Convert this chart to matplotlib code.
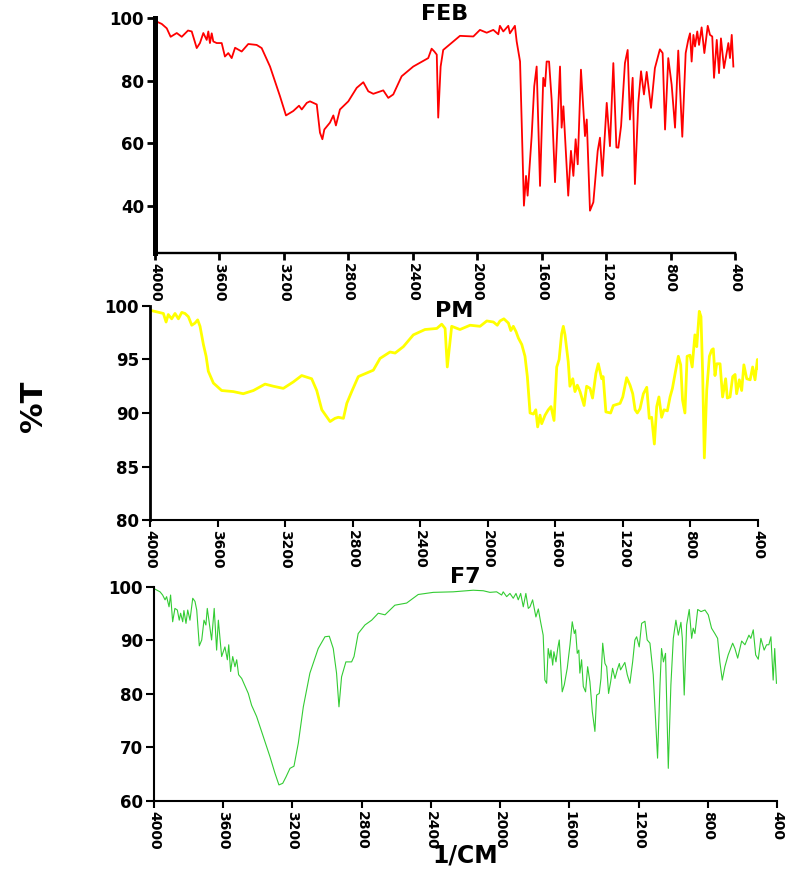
import matplotlib
matplotlib.use("Agg")
import matplotlib.pyplot as plt

plt.rcParams["font.family"] = ["DejaVu Sans"]
plt.rcParams["font.weight"] = "bold"

# ── Spectra (wavenumber 1/cm, %T) ────────────────────────────────────────────
feb_wn = [4000, 3958, 3927, 3903, 3865, 3834, 3795, 3772, 3741, 3721, 3700, 3679,
          3669, 3659, 3648, 3638, 3617, 3586, 3566, 3545, 3524, 3503, 3462, 3421,
          3369, 3338, 3286, 3224, 3187, 3142, 3106, 3089, 3058, 3038, 2996, 2976,
          2961, 2949, 2914, 2893, 2877, 2852, 2800, 2748, 2707, 2676, 2645, 2583,
          2552, 2521, 2469, 2397, 2304, 2283, 2266, 2251, 2242, 2227, 2211, 2149,
          2107, 2024, 1983, 1941, 1900, 1869, 1859, 1838, 1807, 1797, 1766, 1755,
          1734, 1710, 1697, 1687, 1662, 1646, 1631, 1610, 1590, 1579, 1569, 1554,
          1538, 1517, 1486, 1476, 1465, 1455, 1435, 1418, 1403, 1389, 1376, 1356,
          1331, 1320, 1300, 1279, 1252, 1238, 1223, 1196, 1176, 1155, 1136, 1124,
          1107, 1083, 1066, 1052, 1035, 1021, 1000, 983, 965, 948, 921, 897,
          866, 849, 834, 814, 793, 772, 752, 727, 706, 690, 679, 669,
          658, 648, 634, 623, 607, 590, 569, 555, 541, 530, 513, 499,
          487, 468, 441, 431, 420, 410]
feb_t = [99.1, 98.1, 96.7, 94.0, 95.2, 94.0, 96.0, 95.7, 90.4, 92.0, 95.2, 93.0,
         95.7, 92.0, 95.1, 92.5, 92.0, 92.0, 87.7, 88.8, 87.2, 90.5, 89.3, 91.7,
         91.4, 90.4, 84.5, 75.0, 68.9, 70.3, 72.0, 70.8, 72.9, 73.4, 72.4, 63.4,
         61.3, 64.4, 66.6, 68.9, 65.7, 70.8, 73.4, 77.7, 79.5, 76.6, 75.8, 76.9,
         74.5, 75.6, 81.4, 84.5, 87.2, 90.2, 89.3, 88.3, 68.2, 84.5, 89.8, 92.5,
         94.3, 94.1, 96.2, 95.3, 96.2, 94.8, 97.5, 95.7, 97.5, 95.1, 97.5, 92.5,
         86.1, 40.1, 49.6, 43.3, 62.3, 78.2, 84.5, 46.4, 80.9, 78.2, 86.1, 86.1,
         74.0, 47.6, 84.5, 65.0, 71.8, 62.3, 43.3, 57.6, 49.6, 61.3, 53.3, 83.5,
         62.3, 67.6, 38.5, 41.2, 57.6, 61.8, 49.6, 72.9, 59.1, 85.6, 58.7, 58.6,
         65.5, 85.6, 89.8, 67.6, 80.9, 47.0, 72.9, 83.0, 75.6, 82.8, 71.3, 84.0,
         90.0, 88.8, 64.4, 87.2, 78.7, 65.0, 89.6, 62.1, 88.8, 93.0, 95.1, 86.1,
         94.6, 90.9, 95.7, 91.4, 97.0, 88.8, 97.5, 94.6, 94.1, 80.9, 93.0, 82.4,
         93.5, 84.0, 92.0, 87.2, 94.6, 84.5]

pm_wn = [4000, 3921, 3905, 3892, 3872, 3852, 3832, 3812, 3793, 3773, 3753, 3734,
         3718, 3704, 3684, 3668, 3655, 3625, 3576, 3507, 3448, 3388, 3319, 3270,
         3211, 3152, 3102, 3043, 3013, 2983, 2934, 2905, 2885, 2855, 2835, 2806,
         2767, 2678, 2638, 2579, 2549, 2500, 2441, 2372, 2302, 2273, 2253, 2240,
         2214, 2165, 2105, 2046, 2006, 1967, 1944, 1928, 1905, 1878, 1864, 1849,
         1833, 1819, 1799, 1780, 1766, 1750, 1730, 1716, 1705, 1691, 1681, 1661,
         1642, 1626, 1608, 1592, 1578, 1563, 1553, 1543, 1524, 1514, 1497, 1484,
         1470, 1454, 1430, 1415, 1395, 1380, 1360, 1346, 1326, 1317, 1301, 1273,
         1257, 1217, 1201, 1188, 1178, 1158, 1142, 1128, 1115, 1099, 1079, 1059,
         1044, 1030, 1014, 1000, 987, 971, 957, 937, 921, 907, 891, 872,
         858, 847, 833, 820, 803, 790, 774, 763, 748, 738, 728, 718,
         704, 688, 674, 665, 655, 645, 625, 610, 592, 582, 566, 550,
         536, 527, 511, 497, 484, 467, 447, 432, 418, 404, 398]
pm_t = [99.6, 99.3, 98.5, 99.2, 98.8, 99.3, 98.8, 99.4, 99.3, 99.0, 98.2, 98.4,
        98.7, 98.1, 96.4, 95.3, 93.9, 92.8, 92.1, 92.0, 91.8, 92.1, 92.7, 92.5,
        92.3, 92.9, 93.5, 93.2, 92.1, 90.3, 89.2, 89.5, 89.6, 89.5, 90.9, 92.0,
        93.4, 94.0, 95.1, 95.7, 95.6, 96.2, 97.3, 97.8, 97.9, 98.3, 97.9, 94.3,
        98.1, 97.8, 98.2, 98.1, 98.6, 98.5, 98.2, 98.6, 98.8, 98.4, 97.7, 98.1,
        97.6, 97.0, 96.4, 95.3, 93.4, 90.0, 89.9, 90.3, 88.7, 89.8, 89.0, 89.8,
        90.3, 90.6, 89.3, 94.3, 95.0, 97.4, 98.1, 97.3, 94.8, 92.5, 93.2, 92.0,
        92.6, 92.0, 90.7, 92.5, 92.3, 91.4, 93.7, 94.6, 93.2, 93.4, 90.1, 90.0,
        90.7, 90.9, 91.5, 92.5, 93.3, 92.6, 91.8, 90.3, 90.0, 90.4, 91.8, 92.4,
        89.5, 89.6, 87.1, 90.6, 91.5, 89.6, 90.3, 90.2, 91.5, 92.3, 93.7, 95.3,
        94.5, 91.2, 90.0, 95.3, 95.4, 94.3, 97.3, 96.2, 99.5, 99.0, 93.7, 85.8,
        92.1, 95.3, 95.9, 96.0, 93.5, 94.6, 94.6, 91.5, 93.2, 91.4, 91.5, 93.4,
        93.6, 91.8, 93.1, 92.1, 94.5, 93.2, 93.1, 94.3, 93.1, 95.0, 94.2]

f7_wn = [3994, 3965, 3950, 3936, 3927, 3913, 3904, 3892, 3879, 3865, 3854, 3846,
         3834, 3827, 3815, 3805, 3792, 3776, 3763, 3753, 3738, 3724, 3711, 3700,
         3692, 3680, 3667, 3652, 3638, 3628, 3609, 3590, 3576, 3568, 3557, 3545,
         3532, 3522, 3511, 3493, 3455, 3436, 3407, 3368, 3330, 3301, 3278, 3256,
         3237, 3214, 3191, 3166, 3137, 3099, 3051, 3012, 2987, 2964, 2945, 2931,
         2916, 2891, 2858, 2844, 2820, 2781, 2742, 2704, 2665, 2608, 2540, 2473,
         2386, 2271, 2155, 2097, 2059, 2020, 1991, 1982, 1962, 1943, 1924, 1908,
         1895, 1881, 1866, 1851, 1837, 1827, 1812, 1793, 1779, 1766, 1751, 1741,
         1731, 1722, 1712, 1706, 1696, 1689, 1677, 1667, 1658, 1641, 1629, 1612,
         1596, 1583, 1571, 1564, 1554, 1545, 1539, 1529, 1519, 1506, 1494, 1481,
         1467, 1452, 1442, 1427, 1417, 1407, 1394, 1384, 1373, 1361, 1350, 1336,
         1323, 1311, 1304, 1288, 1279, 1265, 1250, 1234, 1221, 1211, 1196, 1182,
         1163, 1150, 1134, 1115, 1090, 1076, 1067, 1056, 1044, 1028, 1013, 999,
         984, 970, 955, 947, 936, 922, 907, 893, 884, 874, 858, 839,
         816, 797, 778, 759, 743, 730, 716, 701, 682, 656, 643, 627,
         604, 585, 562, 551, 537, 523, 508, 493, 474, 460, 447, 435,
         422, 413, 403]
f7_t = [99.6, 99.1, 98.5, 97.6, 98.2, 96.3, 98.5, 93.5, 96.0, 95.7, 93.8, 95.1,
        93.5, 95.6, 93.2, 95.7, 93.8, 97.9, 97.3, 95.7, 89.0, 90.1, 93.8, 92.9,
        96.0, 93.2, 90.1, 96.0, 88.2, 93.8, 87.0, 88.8, 86.4, 89.2, 84.2, 87.0,
        85.1, 86.4, 83.6, 82.9, 80.1, 77.9, 75.8, 72.0, 68.3, 65.2, 63.0, 63.3,
        64.5, 66.1, 66.5, 70.8, 77.6, 83.9, 88.5, 90.7, 90.8, 88.5, 83.9, 77.6,
        83.2, 86.0, 86.0, 87.0, 91.3, 92.9, 93.8, 95.1, 94.8, 96.6, 97.0, 98.6,
        99.0, 99.1, 99.4, 99.3, 99.0, 99.1, 98.5, 99.1, 98.2, 98.8, 97.9, 98.8,
        97.6, 98.8, 96.3, 98.8, 96.0, 96.3, 97.6, 94.4, 95.9, 93.5, 91.0, 82.6,
        82.0, 88.5, 86.7, 88.2, 85.4, 87.9, 86.0, 88.5, 90.1, 80.4, 81.7, 84.8,
        89.2, 93.5, 91.3, 92.0, 87.6, 88.2, 83.9, 86.4, 81.4, 80.4, 85.1, 82.3,
        76.7, 73.0, 79.8, 80.1, 82.9, 89.5, 85.7, 85.1, 80.1, 82.3, 84.8, 82.9,
        84.5, 85.7, 84.5, 85.4, 85.9, 83.6, 82.0, 86.0, 90.1, 90.7, 88.8, 93.2,
        93.6, 90.1, 89.5, 83.6, 68.0, 81.7, 88.5, 86.0, 87.6, 66.1, 81.7, 90.4,
        93.8, 91.0, 93.4, 90.4, 79.8, 92.9, 95.8, 90.4, 92.3, 91.3, 95.8, 95.4,
        95.7, 94.8, 92.3, 91.3, 90.4, 86.0, 82.6, 85.1, 87.3, 89.5, 88.5, 86.7,
        89.9, 89.2, 91.0, 90.4, 92.0, 87.3, 86.5, 90.4, 88.2, 89.2, 89.2, 90.7,
        82.6, 88.5, 82.0]

x_ticks = [4000, 3600, 3200, 2800, 2400, 2000, 1600, 1200, 800, 400]
feb_yticks = [40, 60, 80, 100]
pm_yticks = [80, 85, 90, 95, 100]
f7_yticks = [60, 70, 80, 90, 100]


def style_axis(ax, ylim, yticks, left_w, bottom_w, tick_w):
    ax.set_xlim(4000, 400)
    ax.set_ylim(*ylim)
    ax.set_xticks(x_ticks)
    ax.set_yticks(yticks)
    ax.spines["top"].set_visible(False)
    ax.spines["right"].set_visible(False)
    ax.spines["left"].set_linewidth(left_w)
    ax.spines["bottom"].set_linewidth(bottom_w)
    ax.tick_params(axis="x", direction="out", length=5, width=tick_w,
                   labelsize=10, pad=2, labelrotation=-90)
    ax.tick_params(axis="y", direction="out", length=6, width=tick_w,
                   labelsize=12, pad=2)
    for lab in ax.get_xticklabels() + ax.get_yticklabels():
        lab.set_fontweight("bold")
    for lab in ax.get_xticklabels():
        lab.set_va("top")
        lab.set_ha("center")


def main():
    fig = plt.figure(figsize=(7.88, 8.69), dpi=100)

    # ── FEB ──────────────────────────────────────────────────────────────────
    ax1 = fig.add_axes([0.1967, 0.7089, 0.736, 0.2704])
    ax1.plot(feb_wn, feb_t, color="#ff0000", linewidth=1.3)
    style_axis(ax1, (25, 100), feb_yticks, 3.6, 1.7, 2.0)
    ax1.text(0.5, 1.015, "FEB", transform=ax1.transAxes, ha="center",
             va="center", fontsize=16, fontweight="bold")

    # ── PM ───────────────────────────────────────────────────────────────────
    ax2 = fig.add_axes([0.1904, 0.4016, 0.7716, 0.2463])
    ax2.plot(pm_wn, pm_t, color="#ffff00", linewidth=2.0)
    style_axis(ax2, (80, 100), pm_yticks, 2.0, 1.5, 1.5)
    ax2.text(0.5, 0.977, "PM", transform=ax2.transAxes, ha="center",
             va="center", fontsize=16, fontweight="bold")

    # ── F7 ───────────────────────────────────────────────────────────────────
    ax3 = fig.add_axes([0.1954, 0.0783, 0.7906, 0.2462])
    ax3.plot(f7_wn, f7_t, color="#33cc33", linewidth=0.8)
    style_axis(ax3, (60, 100), f7_yticks, 1.5, 1.5, 1.5)
    ax3.text(0.5, 1.047, "F7", transform=ax3.transAxes, ha="center",
             va="center", fontsize=16, fontweight="bold")

    # shared axis titles
    fig.text(0.042, 0.533, "%T", rotation=90, ha="center", va="center",
             fontsize=22, fontweight="bold")
    fig.text(0.590, 0.015, "1/CM", ha="center", va="center",
             fontsize=17, fontweight="bold")

    fig.savefig("out.png", dpi=100)
    plt.close(fig)


if __name__ == "__main__":
    main()
